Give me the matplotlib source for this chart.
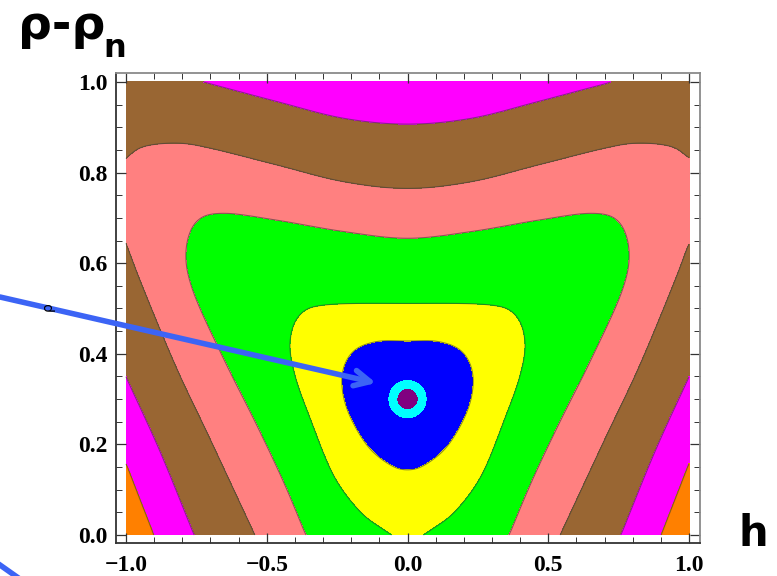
import numpy as np
import matplotlib.pyplot as plt
from matplotlib.ticker import MultipleLocator
from matplotlib.lines import Line2D

# colours of the regions, from the minimum outwards
ring_colors = ["#800080", "#00ffff"]
band_colors = ["#0000ff", "#ffff00", "#00ff00", "#ff8080", "#996633", "#ff00ff", "#ff8000"]

# minimum of the map and the two small rings around it (radius along h)
center_h, center_y = 0.0, 0.30
ring_r = [0.038, 0.066]

# contour values of the six outer boundaries
level_values = [1.0, 2.0, 3.0, 4.0, 5.0, 6.0]

# boundaries, right half only (map is even in h)
# blue / yellow
b1_h = [0.0, 0.109, 0.193, 0.232, 0.216, 0.145, 0.062, 0.0]
b1_y = [0.428, 0.427, 0.405, 0.353, 0.280, 0.199, 0.155, 0.144]
# yellow / green
b2_h = [0.0, 0.287, 0.382, 0.417, 0.400, 0.346, 0.263, 0.169, 0.085, 0.055]
b2_y = [0.511, 0.508, 0.486, 0.427, 0.353, 0.258, 0.132, 0.052, 0.012, 0.0]
# green / pink
b3_h = [0.0, 0.228, 0.465, 0.654, 0.749, 0.787, 0.761, 0.654, 0.536, 0.441, 0.361]
b3_y = [0.655, 0.670, 0.695, 0.710, 0.692, 0.625, 0.537, 0.390, 0.243, 0.118, 0.0]
# pink / brown, upper and lower piece
b4a_h = [0.0, 0.228, 0.465, 0.702, 0.820, 0.939, 1.0]
b4a_y = [0.765, 0.780, 0.817, 0.854, 0.865, 0.857, 0.832]
b4b_h = [1.0, 0.939, 0.820, 0.702, 0.542]
b4b_y = [0.644, 0.545, 0.368, 0.213, 0.0]
# brown / magenta, upper and lower piece
b5a_h = [0.0, 0.228, 0.465, 0.725]
b5a_y = [0.907, 0.920, 0.957, 1.0]
b5b_h = [1.0, 0.879, 0.758]
b5b_y = [0.349, 0.184, 0.0]
# magenta / orange
b6_h = [1.0, 0.901]
b6_y = [0.158, 0.0]

pieces = [(b1_h, b1_y, 0), (b2_h, b2_y, 1), (b3_h, b3_y, 2), (b4a_h, b4a_y, 3),
          (b4b_h, b4b_y, 3), (b5a_h, b5a_y, 4), (b5b_h, b5b_y, 4), (b6_h, b6_y, 5)]

# points inside a band with an estimated value
hint_h = [0.0, 1.0, 0.0, 1.0, 1.0, 1.0, 1.0, 1.0, 0.0]
hint_y = [0.30, 1.0, 1.0, 0.0, 0.25, 0.5, 0.74, 0.92, 0.0]
hint_v = [0.0, 4.5, 5.6, 6.8, 5.5, 4.5, 3.6, 4.3, 1.85]

ysc = 453 / 281.5  # screen aspect, y units -> h units


def catmull_rom(pts, closed, per_seg=8):
    pts = np.asarray(pts, float)
    if closed:
        ext = np.vstack([pts[-1], pts, pts[0], pts[1]])
    else:
        ext = np.vstack([2 * pts[0] - pts[1], pts, 2 * pts[-1] - pts[-2]])
    nseg = len(pts) if closed else len(pts) - 1
    t = np.linspace(0, 1, per_seg, endpoint=False)[:, None]
    out = []
    for i in range(nseg):
        p0, p1, p2, p3 = ext[i], ext[i + 1], ext[i + 2], ext[i + 3]
        out.append(0.5 * (2 * p1 + (p2 - p0) * t + (2 * p0 - 5 * p1 + 4 * p2 - p3) * t ** 2
                          + (3 * p1 - p0 - 3 * p2 + p3) * t ** 3))
    if not closed:
        out.append(pts[-1][None, :])
    return np.vstack(out)


px, py, pv = [], [], []
for hs, ys, k in pieces:
    pts = np.column_stack([hs, np.asarray(ys) * ysc])
    if hs[0] == 0.0:
        # curve crosses h = 0: build both halves before smoothing
        if hs[-1] == 0.0:
            right = pts[1:-1]
            full = np.vstack([pts[:1], right, pts[-1:], (right * [-1, 1])[::-1]])
            curve = catmull_rom(full, True)
        else:
            full = np.vstack([(pts[1:] * [-1, 1])[::-1], pts])
            curve = catmull_rom(full, False)
    else:
        c = catmull_rom(pts, False)
        curve = np.vstack([c, c * [-1, 1]])
    px += list(curve[:, 0]); py += list(curve[:, 1]); pv += [level_values[k]] * len(curve)
for h, y, v in zip(hint_h, hint_y, hint_v):
    px.append(h); py.append(y * ysc); pv.append(v)
px = np.array(px); py = np.array(py); pv = np.array(pv)
# drop points that fall on top of each other
key = np.round(np.column_stack([px, py]), 4)
_, keep = np.unique(key, axis=0, return_index=True)
px, py, pv = px[keep], py[keep], pv[keep]


def tps(r):
    with np.errstate(divide="ignore", invalid="ignore"):
        out = r * r * np.log(r)
    return np.nan_to_num(out)


n = len(px)
K = tps(np.hypot(px[:, None] - px[None, :], py[:, None] - py[None, :])) + 1e-3 * np.eye(n)
P = np.column_stack([np.ones(n), px, py])
A = np.block([[K, P], [P.T, np.zeros((3, 3))]])
sol = np.linalg.solve(A, np.concatenate([pv, np.zeros(3)]))
w, a = sol[:n], sol[n:]

hh = np.linspace(-1, 1, 601)
yy = np.linspace(0, 1, 301)
H, Y = np.meshgrid(hh, yy)
F = a[0] + a[1] * H + a[2] * Y * ysc
for xi, yi, wi in zip(px, py, w):
    F += wi * tps(np.hypot(H - xi, Y * ysc - yi))
R = np.hypot(H - center_h, (Y - center_y) * ysc)

fig = plt.figure(figsize=(7.77, 5.76), dpi=100, facecolor="white")
ax = fig.add_axes([0.1493, 0.0573, 0.7516, 0.816])

big = 1e6
ax.contourf(H, Y, F, levels=[-big] + level_values + [big], colors=band_colors)
ax.contour(H, Y, F, levels=level_values, colors="#3a3a3a", linewidths=0.8, alpha=0.6)
ax.contourf(H, Y, R, levels=[0] + ring_r, colors=ring_colors)

ax.set_xlim(-1.0355, 1.039)
ax.set_ylim(-0.0177, 1.0199)
ax.set_xticks([-1.0, -0.5, 0.0, 0.5, 1.0])
ax.set_xticklabels(["\u22121.0", "\u22120.5", "0.0", "0.5", "1.0"])
ax.set_yticks([0.0, 0.2, 0.4, 0.6, 0.8, 1.0])
ax.set_yticklabels(["0.0", "0.2", "0.4", "0.6", "0.8", "1.0"])
ax.xaxis.set_minor_locator(MultipleLocator(0.1))
ax.yaxis.set_minor_locator(MultipleLocator(0.05))
ax.tick_params(which="both", direction="in", top=True, right=True, color="#333333")
ax.tick_params(which="major", length=7, width=0.9)
ax.tick_params(which="minor", length=4, width=0.7)
ax.tick_params(axis="x", pad=9)
ax.tick_params(axis="y", pad=6)
for lab in ax.get_xticklabels() + ax.get_yticklabels():
    lab.set_family("Liberation Serif")
    lab.set_fontweight("bold")
    lab.set_fontsize(17)
for side in ["left", "bottom"]:
    ax.spines[side].set_color("#333333")
for side in ["top", "right"]:
    ax.spines[side].set_color("#8a8a8a")
for sp in ax.spines.values():
    sp.set_linewidth(1.3)

fig.text(18 / 777, 1 - 39 / 576, "\u03c1-\u03c1", fontsize=34, fontweight="bold",
         family="DejaVu Sans", ha="left", va="baseline")
fig.text(103 / 777, 1 - 57 / 576, "n", fontsize=23, fontweight="bold",
         family="DejaVu Sans", ha="left", va="baseline")
fig.text(739 / 777, 1 - 546 / 576, "h", fontsize=30, fontweight="bold",
         family="DejaVu Sans", ha="left", va="baseline")
fig.text(48 / 777, 1 - 307 / 576, "\u03c1", fontsize=10, rotation=90,
         ha="center", va="center")

arrow_color = "#3c64f5"
ax.annotate("", xy=(376, 576 - 383), xycoords="figure pixels",
            xytext=(0, 576 - 297), textcoords="figure pixels",
            arrowprops=dict(arrowstyle="->", lw=4, color=arrow_color,
                            mutation_scale=28, shrinkA=0, shrinkB=0),
            annotation_clip=False)
fig.add_artist(Line2D([0, 17 / 777], [11 / 576, -1 / 576], transform=fig.transFigure,
                      lw=4, color=arrow_color))

fig.savefig("out.png", dpi=100)
